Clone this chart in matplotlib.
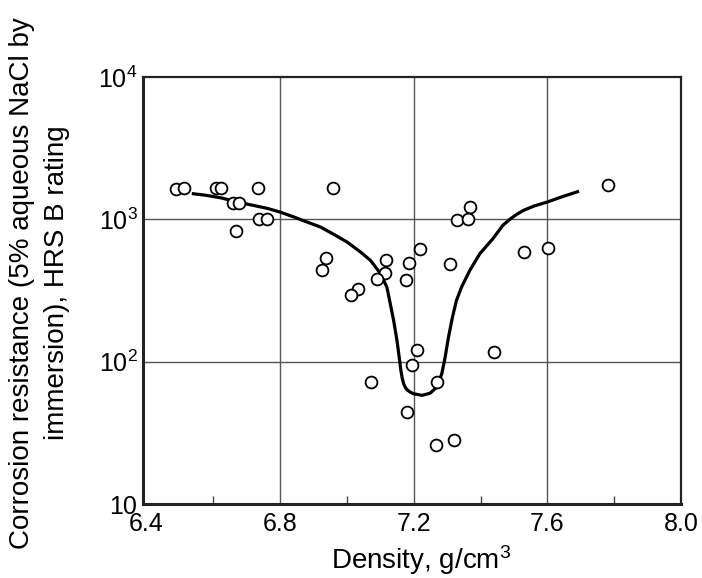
import matplotlib
matplotlib.use('Agg')
import matplotlib.pyplot as plt
from matplotlib.ticker import FixedLocator, NullLocator

plt.rcParams['font.family'] = ['Liberation Sans', 'DejaVu Sans']
plt.rcParams['mathtext.fontset'] = 'custom'
plt.rcParams['mathtext.rm'] = 'Liberation Sans'

# measured points: density (g/cm3) vs corrosion resistance (h)
density = [6.49, 6.512, 6.607, 6.624, 6.733, 6.958, 6.66, 6.677, 6.736, 6.761,
           6.668, 6.937, 6.925, 7.033, 7.012, 7.116, 7.113, 7.09, 7.369, 7.33,
           7.363, 7.218, 7.185, 7.31, 7.176, 7.209, 7.44, 7.194, 7.072, 7.271,
           7.179, 7.268, 7.322, 7.529, 7.603, 7.781]
resistance = [1626, 1653, 1653, 1653, 1653, 1653, 1297, 1297, 1000, 1000,
              822, 531, 444, 326, 296, 514, 417, 378, 1217, 985,
              1000, 615, 490, 482, 372, 120, 117, 95, 72, 72,
              44, 26, 28, 586, 625, 1733]

# trend curve
curve_x = [6.536, 6.578, 6.625, 6.671, 6.718, 6.764, 6.8, 6.842, 6.881, 6.921,
           6.961, 7.001, 7.041, 7.071, 7.101, 7.12, 7.13, 7.14, 7.15, 7.158,
           7.162, 7.166, 7.17, 7.175, 7.18, 7.19, 7.2, 7.225, 7.249, 7.269,
           7.284, 7.294, 7.304, 7.316, 7.328, 7.343, 7.368, 7.398, 7.437, 7.467,
           7.49, 7.51, 7.53, 7.56, 7.6, 7.648, 7.695]
curve_y = [1517, 1476, 1413, 1324, 1256, 1191, 1125, 1038, 957, 883,
           784, 692, 589, 514, 415, 333, 255, 195, 141, 102,
           86, 76, 70, 66, 63.5, 61, 59.5, 58, 60, 66,
           82, 107, 148, 205, 269, 333, 438, 573, 731, 908,
           1010, 1090, 1160, 1240, 1324, 1452, 1575]

x_ticks = [6.4, 6.8, 7.2, 7.6, 8.0]
x_labels = ['6.4', '6.8', '7.2', '7.6', '8.0']
y_ticks = [10, 100, 1000, 10000]
y_labels = ['10', r'$\mathregular{10^2}$', r'$\mathregular{10^3}$', r'$\mathregular{10^4}$']

fig = plt.figure(figsize=(7.02, 5.78), dpi=100)
ax = fig.add_axes([143 / 702, 74 / 578, 538 / 702, 427 / 578])

ax.plot(curve_x, curve_y, color='black', lw=2.3, zorder=3,
        solid_capstyle='butt', solid_joinstyle='round')
ax.plot(density, resistance, 'o', ms=8.5, mfc='white', mec='black', mew=1.3, zorder=4)

ax.set_yscale('log')
ax.set_xlim(6.39, 7.99)
ax.set_ylim(10, 10000)

ax.set_xticks(x_ticks)
ax.set_xticklabels(x_labels, fontsize=18)
ax.xaxis.set_minor_locator(FixedLocator([6.6, 7.0, 7.4, 7.8]))
ax.tick_params(axis='x', which='major', length=0, pad=6)
ax.tick_params(axis='x', which='minor', direction='in', length=6, width=1, color='#444444')
ax.yaxis.set_minor_locator(NullLocator())
ax.set_yticks(y_ticks)
ax.set_yticklabels(y_labels, fontsize=18)
ax.tick_params(axis='y', which='major', length=0, pad=4)

for g in [6.8, 7.2, 7.6]:
    ax.axvline(g, color='#555555', lw=1.0, zorder=1)
for g in [100, 1000]:
    ax.axhline(g, color='#555555', lw=1.0, zorder=1)

ax.spines['left'].set_linewidth(2.2)
ax.spines['bottom'].set_linewidth(2.2)
ax.spines['top'].set_linewidth(1.6)
ax.spines['right'].set_linewidth(1.6)
for s in ax.spines.values():
    s.set_color('#222222')

ax.set_xlabel(r'Density, g/cm$\mathregular{^3}$', fontsize=20)
ax.xaxis.set_label_coords(0.517, -0.092)
fig.text(40 / 702, 1 - 283 / 578,
         'Corrosion resistance (5% aqueous NaCl by\nimmersion), HRS B rating',
         rotation=90, ha='center', va='center', fontsize=20,
         multialignment='center', linespacing=1.45)

fig.savefig('out.png', dpi=100)
